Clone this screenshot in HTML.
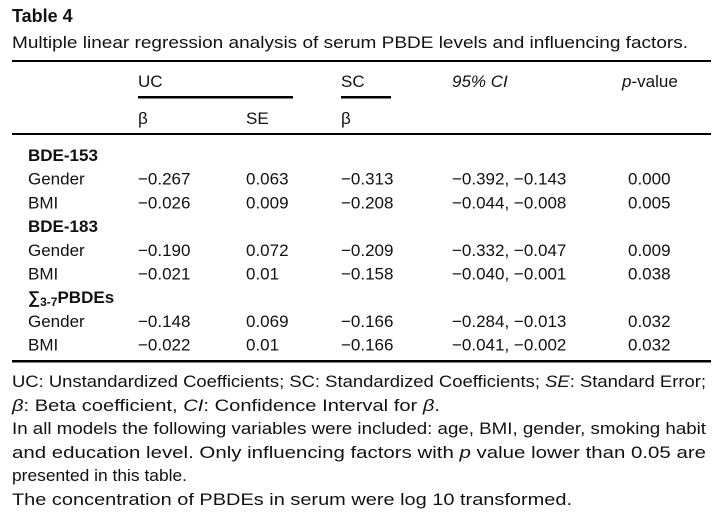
<!DOCTYPE html>
<html><head><meta charset="utf-8">
<style>
html,body{margin:0;padding:0;background:#fff;}
svg{display:block;font-family:"Liberation Sans Narrow","Liberation Sans",sans-serif;font-size:17px;fill:#111;}
.b{font-weight:bold;}
.i{font-style:italic;}
</style></head>
<body>
<svg width="723" height="517" viewBox="0 0 723 517">
<text x="12" y="22" class="b" font-size="18">Table 4</text>
<text x="12" y="48" textLength="676" lengthAdjust="spacingAndGlyphs">Multiple linear regression analysis of serum PBDE levels and influencing factors.</text>
<rect x="12" y="60" width="699" height="2" fill="#000"/>
<text x="138" y="87">UC</text>
<text x="341" y="87">SC</text>
<text x="452" y="87" class="i">95% CI</text>
<text x="622" y="87"><tspan class="i">p</tspan>-value</text>
<rect x="138" y="96" width="155" height="2.5" fill="#000"/>
<rect x="341" y="96" width="50" height="2.5" fill="#000"/>
<text x="138" y="124">β</text>
<text x="246" y="124">SE</text>
<text x="341" y="124">β</text>
<rect x="12" y="133" width="699" height="2" fill="#000"/>
<g id="rows"></g>
<rect x="12" y="360" width="699" height="2.5" fill="#000"/>
<text x="12" y="387" textLength="694" lengthAdjust="spacingAndGlyphs">UC: Unstandardized Coefficients; SC: Standardized Coefficients; <tspan class="i">SE</tspan>: Standard Error;</text>
<text x="12" y="411" textLength="428" lengthAdjust="spacingAndGlyphs"><tspan class="i">β</tspan>: Beta coefficient, <tspan class="i">CI</tspan>: Confidence Interval for <tspan class="i">β</tspan>.</text>
<text x="12" y="434" textLength="694" lengthAdjust="spacingAndGlyphs">In all models the following variables were included: age, BMI, gender, smoking habit</text>
<text x="12" y="458" textLength="694" lengthAdjust="spacingAndGlyphs">and education level. Only influencing factors with <tspan class="i">p</tspan> value lower than 0.05 are</text>
<text x="12" y="481" textLength="175" lengthAdjust="spacingAndGlyphs">presented in this table.</text>
<text x="12" y="505" textLength="560" lengthAdjust="spacingAndGlyphs">The concentration of PBDEs in serum were log 10 transformed.</text>
</svg>
<script>
const groups = ["BDE-153","BDE-183","∑3-7PBDEs"];
const factors = ["Gender","BMI"];
const ucBeta = ["−0.267","−0.026","−0.190","−0.021","−0.148","−0.022"];
const ucSE = ["0.063","0.009","0.072","0.01","0.069","0.01"];
const scBeta = ["−0.313","−0.208","−0.209","−0.158","−0.166","−0.166"];
const ci = ["−0.392, −0.143","−0.044, −0.008","−0.332, −0.047","−0.040, −0.001","−0.284, −0.013","−0.041, −0.002"];
const pval = ["0.000","0.005","0.009","0.038","0.032","0.032"];
const NS="http://www.w3.org/2000/svg";
const g=document.getElementById('rows');
const cols=[28,138,246,341,452,628];
function t(x,y,s,cls){const e=document.createElementNS(NS,'text');e.setAttribute('x',x);e.setAttribute('y',y);if(cls)e.setAttribute('class',cls);e.textContent=s;g.appendChild(e);return e;}
let y=161;
groups.forEach((gr,gi)=>{
  let h;
  if(gr.startsWith("∑")){
    h=document.createElementNS(NS,'text');h.setAttribute('x',28);h.setAttribute('y',y);h.setAttribute('class','b');
    h.innerHTML='∑<tspan font-size="12" dy="3">3-7</tspan><tspan dy="-3">PBDEs</tspan>';g.appendChild(h);
  } else h=t(28,y,gr,'b');
  
  
  y+=23.7;
  factors.forEach((f,fi)=>{
    const i=gi*2+fi;
    const vals=[f,ucBeta[i],ucSE[i],scBeta[i],ci[i],pval[i]];
    vals.forEach((v,c)=>{
      const e=t(cols[c],y,v);
      
      
    });
    y+=23.7;
  });
});
</script>
</body></html>
